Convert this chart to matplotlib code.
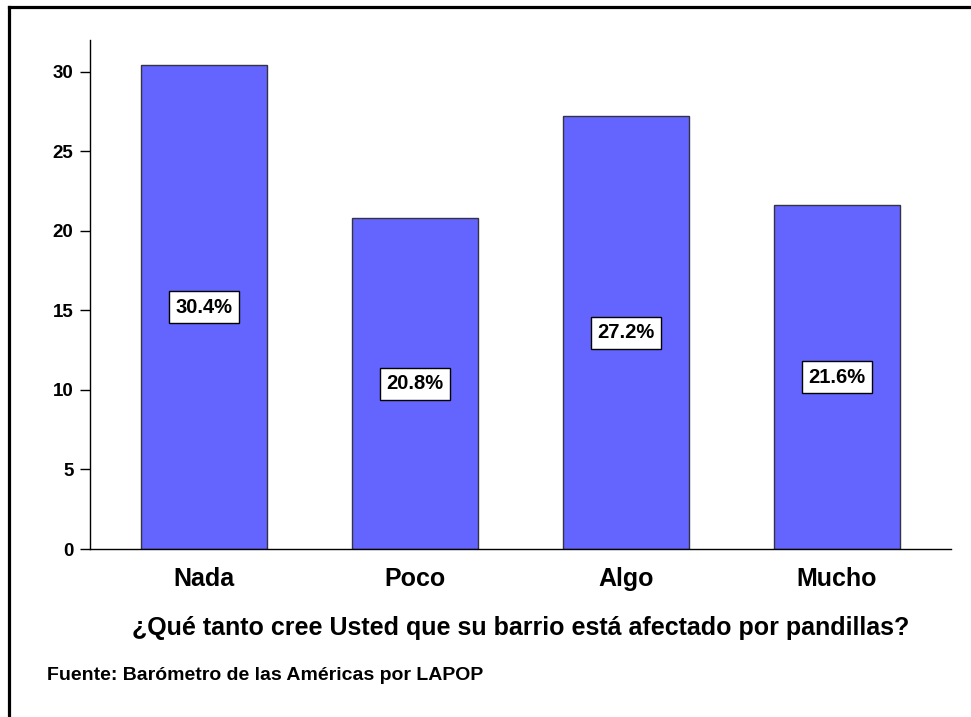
import matplotlib.pyplot as plt
from matplotlib.lines import Line2D

categories = ["Nada", "Poco", "Algo", "Mucho"]
values = [30.4, 20.8, 27.2, 21.6]
yticks = [0, 5, 10, 15, 20, 25, 30]

plt.rcParams['font.family'] = ['Liberation Sans', 'DejaVu Sans']
plt.rcParams['font.weight'] = 'bold'

fig = plt.figure(figsize=(9.71, 7.17), dpi=100)
ax = fig.add_axes([0.0927, 0.2343, 0.8867, 0.7099])

x = range(len(categories))
ax.bar(x, values, width=0.6, color='#6464ff', edgecolor='#333344', linewidth=1)
for xi, v in zip(x, values):
    ax.text(xi, v / 2, f"{v:.1f}%", ha='center', va='center', fontsize=14.5,
            fontweight='bold',
            bbox=dict(boxstyle='square,pad=0.32', facecolor='white',
                      edgecolor='black', linewidth=1))

ax.set_xlim(-0.54, 3.54)
ax.set_ylim(0, 32)
ax.set_yticks(yticks)
ax.set_xticks(list(x))
ax.set_xticklabels(categories, fontsize=18, fontweight='bold')
ax.tick_params(axis='x', length=0, pad=13)
ax.tick_params(axis='y', length=7, width=1, labelsize=13.5, pad=5)
for s in ['top', 'right']:
    ax.spines[s].set_visible(False)
for s in ['left', 'bottom']:
    ax.spines[s].set_linewidth(1)

fig.text(520.5 / 971, 1 - 628 / 717,
         "¿Qué tanto cree Usted que su barrio está afectado por pandillas?",
         fontsize=18, fontweight='bold', ha='center', va='center')

fig.text(47 / 971, 1 - 675 / 717, "Fuente: Barómetro de las Américas por LAPOP",
         fontsize=14, fontweight='bold', va='center', ha='left')

# outer frame (left and top edges)
fx = 8.5 / 971
fy = 1 - 6.5 / 717
fig.add_artist(Line2D([fx, fx], [0, fy], transform=fig.transFigure,
                      color='black', linewidth=2.3, solid_capstyle='projecting'))
fig.add_artist(Line2D([fx, 1], [fy, fy], transform=fig.transFigure,
                      color='black', linewidth=2.3, solid_capstyle='projecting'))

fig.savefig("out.png", dpi=100)
